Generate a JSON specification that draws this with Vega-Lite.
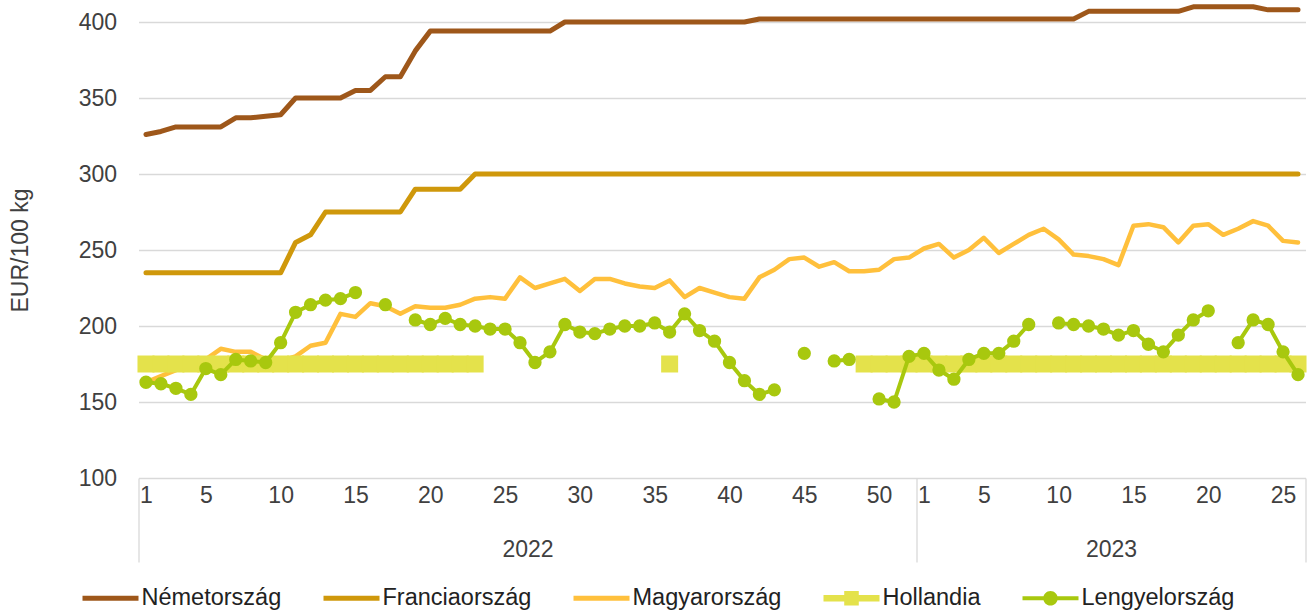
{
  "$schema": "https://vega.github.io/schema/vega-lite/v6.json",
  "width": 1167,
  "height": 456,
  "autosize": {"type": "none"},
  "padding": {"left": 138.5, "top": 22, "right": 3.5, "bottom": 133},
  "background": "white",
  "config": {
    "font": "Liberation Sans",
    "view": {"stroke": null},
    "axis": {
      "labelFont": "Liberation Sans",
      "labelFontSize": 23,
      "labelColor": "#404040",
      "titleFont": "Liberation Sans",
      "titleFontSize": 23,
      "titleFontWeight": "normal",
      "titleColor": "#404040",
      "domain": false,
      "ticks": false,
      "grid": false
    },
    "axisY": {"grid": true, "gridColor": "#d9d9d9", "gridWidth": 1.3, "labelPadding": 22, "titlePadding": 46}
  },
  "datasets": {
    "de": [
      {"i":0,"v":326},{"i":1,"v":328},{"i":2,"v":331},{"i":3,"v":331},{"i":4,"v":331},{"i":5,"v":331},{"i":6,"v":337},{"i":7,"v":337},{"i":8,"v":338},{"i":9,"v":339},
      {"i":10,"v":350},{"i":11,"v":350},{"i":12,"v":350},{"i":13,"v":350},{"i":14,"v":355},{"i":15,"v":355},{"i":16,"v":364},{"i":17,"v":364},{"i":18,"v":381},{"i":19,"v":394},
      {"i":20,"v":394},{"i":21,"v":394},{"i":22,"v":394},{"i":23,"v":394},{"i":24,"v":394},{"i":25,"v":394},{"i":26,"v":394},{"i":27,"v":394},{"i":28,"v":400},{"i":29,"v":400},
      {"i":30,"v":400},{"i":31,"v":400},{"i":32,"v":400},{"i":33,"v":400},{"i":34,"v":400},{"i":35,"v":400},{"i":36,"v":400},{"i":37,"v":400},{"i":38,"v":400},{"i":39,"v":400},
      {"i":40,"v":400},{"i":41,"v":402},{"i":42,"v":402},{"i":43,"v":402},{"i":44,"v":402},{"i":45,"v":402},{"i":46,"v":402},{"i":47,"v":402},{"i":48,"v":402},{"i":49,"v":402},
      {"i":50,"v":402},{"i":51,"v":402},{"i":52,"v":402},{"i":53,"v":402},{"i":54,"v":402},{"i":55,"v":402},{"i":56,"v":402},{"i":57,"v":402},{"i":58,"v":402},{"i":59,"v":402},
      {"i":60,"v":402},{"i":61,"v":402},{"i":62,"v":402},{"i":63,"v":407},{"i":64,"v":407},{"i":65,"v":407},{"i":66,"v":407},{"i":67,"v":407},{"i":68,"v":407},{"i":69,"v":407},
      {"i":70,"v":410},{"i":71,"v":410},{"i":72,"v":410},{"i":73,"v":410},{"i":74,"v":410},{"i":75,"v":408},{"i":76,"v":408},{"i":77,"v":408}
    ],
    "fr": [
      {"i":0,"v":235},{"i":1,"v":235},{"i":2,"v":235},{"i":3,"v":235},{"i":4,"v":235},{"i":5,"v":235},{"i":6,"v":235},{"i":7,"v":235},{"i":8,"v":235},{"i":9,"v":235},
      {"i":10,"v":255},{"i":11,"v":260},{"i":12,"v":275},{"i":13,"v":275},{"i":14,"v":275},{"i":15,"v":275},{"i":16,"v":275},{"i":17,"v":275},{"i":18,"v":290},{"i":19,"v":290},
      {"i":20,"v":290},{"i":21,"v":290},{"i":22,"v":300},{"i":23,"v":300},{"i":24,"v":300},{"i":25,"v":300},{"i":26,"v":300},{"i":27,"v":300},{"i":28,"v":300},{"i":29,"v":300},
      {"i":30,"v":300},{"i":31,"v":300},{"i":32,"v":300},{"i":33,"v":300},{"i":34,"v":300},{"i":35,"v":300},{"i":36,"v":300},{"i":37,"v":300},{"i":38,"v":300},{"i":39,"v":300},
      {"i":40,"v":300},{"i":41,"v":300},{"i":42,"v":300},{"i":43,"v":300},{"i":44,"v":300},{"i":45,"v":300},{"i":46,"v":300},{"i":47,"v":300},{"i":48,"v":300},{"i":49,"v":300},
      {"i":50,"v":300},{"i":51,"v":300},{"i":52,"v":300},{"i":53,"v":300},{"i":54,"v":300},{"i":55,"v":300},{"i":56,"v":300},{"i":57,"v":300},{"i":58,"v":300},{"i":59,"v":300},
      {"i":60,"v":300},{"i":61,"v":300},{"i":62,"v":300},{"i":63,"v":300},{"i":64,"v":300},{"i":65,"v":300},{"i":66,"v":300},{"i":67,"v":300},{"i":68,"v":300},{"i":69,"v":300},
      {"i":70,"v":300},{"i":71,"v":300},{"i":72,"v":300},{"i":73,"v":300},{"i":74,"v":300},{"i":75,"v":300},{"i":76,"v":300},{"i":77,"v":300}
    ],
    "hu": [
      {"i":0,"v":163},{"i":1,"v":167},{"i":2,"v":171},{"i":3,"v":174},{"i":4,"v":178},{"i":5,"v":185},{"i":6,"v":183},{"i":7,"v":183},{"i":8,"v":178},{"i":9,"v":177},
      {"i":10,"v":180},{"i":11,"v":187},{"i":12,"v":189},{"i":13,"v":208},{"i":14,"v":206},{"i":15,"v":215},{"i":16,"v":213},{"i":17,"v":208},{"i":18,"v":213},{"i":19,"v":212},
      {"i":20,"v":212},{"i":21,"v":214},{"i":22,"v":218},{"i":23,"v":219},{"i":24,"v":218},{"i":25,"v":232},{"i":26,"v":225},{"i":27,"v":228},{"i":28,"v":231},{"i":29,"v":223},
      {"i":30,"v":231},{"i":31,"v":231},{"i":32,"v":228},{"i":33,"v":226},{"i":34,"v":225},{"i":35,"v":230},{"i":36,"v":219},{"i":37,"v":225},{"i":38,"v":222},{"i":39,"v":219},
      {"i":40,"v":218},{"i":41,"v":232},{"i":42,"v":237},{"i":43,"v":244},{"i":44,"v":245},{"i":45,"v":239},{"i":46,"v":242},{"i":47,"v":236},{"i":48,"v":236},{"i":49,"v":237},
      {"i":50,"v":244},{"i":51,"v":245},{"i":52,"v":251},{"i":53,"v":254},{"i":54,"v":245},{"i":55,"v":250},{"i":56,"v":258},{"i":57,"v":248},{"i":58,"v":254},{"i":59,"v":260},
      {"i":60,"v":264},{"i":61,"v":257},{"i":62,"v":247},{"i":63,"v":246},{"i":64,"v":244},{"i":65,"v":240},{"i":66,"v":266},{"i":67,"v":267},{"i":68,"v":265},{"i":69,"v":255},
      {"i":70,"v":266},{"i":71,"v":267},{"i":72,"v":260},{"i":73,"v":264},{"i":74,"v":269},{"i":75,"v":266},{"i":76,"v":256},{"i":77,"v":255}
    ],
    "nl": [
      {"i":0,"v":175},{"i":1,"v":175},{"i":2,"v":175},{"i":3,"v":175},{"i":4,"v":175},{"i":5,"v":175},{"i":6,"v":175},{"i":7,"v":175},{"i":8,"v":175},{"i":9,"v":175},
      {"i":10,"v":175},{"i":11,"v":175},{"i":12,"v":175},{"i":13,"v":175},{"i":14,"v":175},{"i":15,"v":175},{"i":16,"v":175},{"i":17,"v":175},{"i":18,"v":175},{"i":19,"v":175},
      {"i":20,"v":175},{"i":21,"v":175},{"i":22,"v":175},{"i":35,"v":175},
      {"i":48,"v":175},{"i":49,"v":175},{"i":50,"v":175},{"i":51,"v":175},{"i":52,"v":175},{"i":53,"v":175},{"i":54,"v":175},{"i":55,"v":175},{"i":56,"v":175},{"i":57,"v":175},
      {"i":58,"v":175},{"i":59,"v":175},{"i":60,"v":175},{"i":61,"v":175},{"i":62,"v":175},{"i":63,"v":175},{"i":64,"v":175},{"i":65,"v":175},{"i":66,"v":175},{"i":67,"v":175},
      {"i":68,"v":175},{"i":69,"v":175},{"i":70,"v":175},{"i":71,"v":175},{"i":72,"v":175},{"i":73,"v":175},{"i":74,"v":175},{"i":75,"v":175},{"i":76,"v":175},{"i":77,"v":175}
    ],
    "pl": [
      {"i":0,"v":163,"s":1},{"i":1,"v":162,"s":1},{"i":2,"v":159,"s":1},{"i":3,"v":155,"s":1},{"i":4,"v":172,"s":1},{"i":5,"v":168,"s":1},{"i":6,"v":178,"s":1},{"i":7,"v":177,"s":1},{"i":8,"v":176,"s":1},{"i":9,"v":189,"s":1},
      {"i":10,"v":209,"s":1},{"i":11,"v":214,"s":1},{"i":12,"v":217,"s":1},{"i":13,"v":218,"s":1},{"i":14,"v":222,"s":1},
      {"i":16,"v":214,"s":2},
      {"i":18,"v":204,"s":3},{"i":19,"v":201,"s":3},{"i":20,"v":205,"s":3},{"i":21,"v":201,"s":3},{"i":22,"v":200,"s":3},{"i":23,"v":198,"s":3},{"i":24,"v":198,"s":3},{"i":25,"v":189,"s":3},{"i":26,"v":176,"s":3},{"i":27,"v":183,"s":3},
      {"i":28,"v":201,"s":3},{"i":29,"v":196,"s":3},{"i":30,"v":195,"s":3},{"i":31,"v":198,"s":3},{"i":32,"v":200,"s":3},{"i":33,"v":200,"s":3},{"i":34,"v":202,"s":3},{"i":35,"v":196,"s":3},{"i":36,"v":208,"s":3},{"i":37,"v":197,"s":3},
      {"i":38,"v":190,"s":3},{"i":39,"v":176,"s":3},{"i":40,"v":164,"s":3},{"i":41,"v":155,"s":3},{"i":42,"v":158,"s":3},
      {"i":44,"v":182,"s":4},
      {"i":46,"v":177,"s":5},{"i":47,"v":178,"s":5},
      {"i":49,"v":152,"s":6},{"i":50,"v":150,"s":6},{"i":51,"v":180,"s":6},{"i":52,"v":182,"s":6},{"i":53,"v":171,"s":6},{"i":54,"v":165,"s":6},{"i":55,"v":178,"s":6},{"i":56,"v":182,"s":6},{"i":57,"v":182,"s":6},{"i":58,"v":190,"s":6},{"i":59,"v":201,"s":6},
      {"i":61,"v":202,"s":7},{"i":62,"v":201,"s":7},{"i":63,"v":200,"s":7},{"i":64,"v":198,"s":7},{"i":65,"v":194,"s":7},{"i":66,"v":197,"s":7},{"i":67,"v":188,"s":7},{"i":68,"v":183,"s":7},{"i":69,"v":194,"s":7},{"i":70,"v":204,"s":7},{"i":71,"v":210,"s":7},
      {"i":73,"v":189,"s":8},{"i":74,"v":204,"s":8},{"i":75,"v":201,"s":8},{"i":76,"v":183,"s":8},{"i":77,"v":168,"s":8}
    ]
  },
  "resolve": {"scale": {"x": "independent"}, "axis": {"x": "independent"}},
  "layer": [
    {
      "data": {"name": "de"},
      "mark": {"type": "line", "strokeWidth": 5, "strokeJoin": "round", "strokeCap": "round"},
      "encoding": {
        "x": {"field": "i", "type": "quantitative", "scale": {"domain": [-0.5, 77.5], "nice": false, "zero": false},
          "axis": {"orient": "bottom", "title": null, "values": [0,4,9,14,19,24,29,34,39,44,49,52,56,61,66,71,76],
            "labelExpr": "datum.value < 51.5 ? datum.value + 1 : datum.value - 51", "labelPadding": 6, "labelOverlap": false, "labelFlush": false, "labelBound": false}},
        "y": {"field": "v", "type": "quantitative", "title": "EUR/100 kg", "scale": {"domain": [100, 400], "nice": false, "zero": false},
          "axis": {"values": [100,150,200,250,300,350,400]}},
        "color": {"datum": "Németország", "type": "nominal",
          "scale": {"domain": ["Németország","Franciaország","Magyarország","Hollandia","Lengyelország"], "range": ["#9E571A","#CF980B","#FFC03C","#E4E24B","#A8C80E"]},
          "legend": {"orient": "none", "legendX": -56, "legendY": 548, "direction": "horizontal", "columns": 5, "title": null,
            "symbolType": "M-1,-0.09H1V0.09H-1Z", "symbolSize": 3136, "symbolStrokeWidth": 0,
            "labelFont": "Liberation Sans", "labelFontSize": 23.5, "labelColor": "#222222", "labelOffset": 3, "columnPadding": 42, "padding": 0, "labelLimit": 400,
            "encode": {"symbols": {"update": {
              "shape": {"signal": "datum.value === 'Hollandia' ? 'M-1,-0.12H1V0.12H-1Z M-0.26,-0.26H0.26V0.26H-0.26Z' : datum.value === 'Lengyelország' ? 'M-1,-0.075H1V0.075H-1Z M0.26,0A0.26,0.26,0,1,1,-0.26,0A0.26,0.26,0,1,1,0.26,0Z' : 'M-1,-0.09H1V0.09H-1Z'"},
              "fill": {"scale": "color", "field": "value"},
              "stroke": {"value": "transparent"},
              "opacity": {"value": 1}
            }}}}
        }
      }
    },
    {
      "data": {"name": "fr"},
      "mark": {"type": "line", "strokeWidth": 5, "strokeJoin": "round", "strokeCap": "round"},
      "encoding": {
        "x": {"field": "i", "type": "quantitative", "scale": {"domain": [-0.5, 77.5], "nice": false, "zero": false},
          "axis": {"orient": "bottom", "title": null, "values": [25.5, 64.5], "labelExpr": "datum.value < 50 ? '2022' : '2023'", "labelPadding": 60, "labelOverlap": false, "labelFlush": false, "labelBound": false}},
        "y": {"field": "v", "type": "quantitative", "title": "EUR/100 kg", "scale": {"domain": [100, 400], "nice": false, "zero": false}},
        "color": {"datum": "Franciaország", "type": "nominal",
          "scale": {"domain": ["Németország","Franciaország","Magyarország","Hollandia","Lengyelország"], "range": ["#9E571A","#CF980B","#FFC03C","#E4E24B","#A8C80E"]}}
      }
    },
    {
      "data": {"name": "hu"},
      "mark": {"type": "line", "strokeWidth": 4.5, "strokeJoin": "round", "strokeCap": "round"},
      "encoding": {
        "x": {"field": "i", "type": "quantitative", "scale": {"domain": [-0.5, 77.5], "nice": false, "zero": false}, "axis": null},
        "y": {"field": "v", "type": "quantitative", "title": "EUR/100 kg", "scale": {"domain": [100, 400], "nice": false, "zero": false}},
        "color": {"datum": "Magyarország", "type": "nominal",
          "scale": {"domain": ["Németország","Franciaország","Magyarország","Hollandia","Lengyelország"], "range": ["#9E571A","#CF980B","#FFC03C","#E4E24B","#A8C80E"]}}
      }
    },
    {
      "data": {"name": "nl"},
      "mark": {"type": "point", "shape": "square", "filled": true, "size": 289, "opacity": 1, "strokeWidth": 0},
      "encoding": {
        "x": {"field": "i", "type": "quantitative", "scale": {"domain": [-0.5, 77.5], "nice": false, "zero": false},
          "axis": {"orient": "bottom", "title": null, "values": [-0.5, 51.5, 77.5], "labels": false, "ticks": true, "tickSize": 84, "tickColor": "#d9d9d9", "tickWidth": 1.3}},
        "y": {"field": "v", "type": "quantitative", "title": "EUR/100 kg", "scale": {"domain": [100, 400], "nice": false, "zero": false}},
        "color": {"datum": "Hollandia", "type": "nominal",
          "scale": {"domain": ["Németország","Franciaország","Magyarország","Hollandia","Lengyelország"], "range": ["#9E571A","#CF980B","#FFC03C","#E4E24B","#A8C80E"]}}
      }
    },
    {
      "data": {"name": "pl"},
      "mark": {"type": "line", "strokeWidth": 4, "strokeJoin": "round", "strokeCap": "round"},
      "encoding": {
        "x": {"field": "i", "type": "quantitative", "scale": {"domain": [-0.5, 77.5], "nice": false, "zero": false}, "axis": null},
        "y": {"field": "v", "type": "quantitative", "title": "EUR/100 kg", "scale": {"domain": [100, 400], "nice": false, "zero": false}},
        "detail": {"field": "s", "type": "nominal"},
        "color": {"datum": "Lengyelország", "type": "nominal",
          "scale": {"domain": ["Németország","Franciaország","Magyarország","Hollandia","Lengyelország"], "range": ["#9E571A","#CF980B","#FFC03C","#E4E24B","#A8C80E"]}}
      }
    },
    {
      "data": {"name": "pl"},
      "mark": {"type": "point", "shape": "circle", "filled": true, "size": 177, "opacity": 1, "strokeWidth": 0},
      "encoding": {
        "x": {"field": "i", "type": "quantitative", "scale": {"domain": [-0.5, 77.5], "nice": false, "zero": false}, "axis": null},
        "y": {"field": "v", "type": "quantitative", "title": "EUR/100 kg", "scale": {"domain": [100, 400], "nice": false, "zero": false}},
        "color": {"datum": "Lengyelország", "type": "nominal",
          "scale": {"domain": ["Németország","Franciaország","Magyarország","Hollandia","Lengyelország"], "range": ["#9E571A","#CF980B","#FFC03C","#E4E24B","#A8C80E"]}}
      }
    }
  ]
}
